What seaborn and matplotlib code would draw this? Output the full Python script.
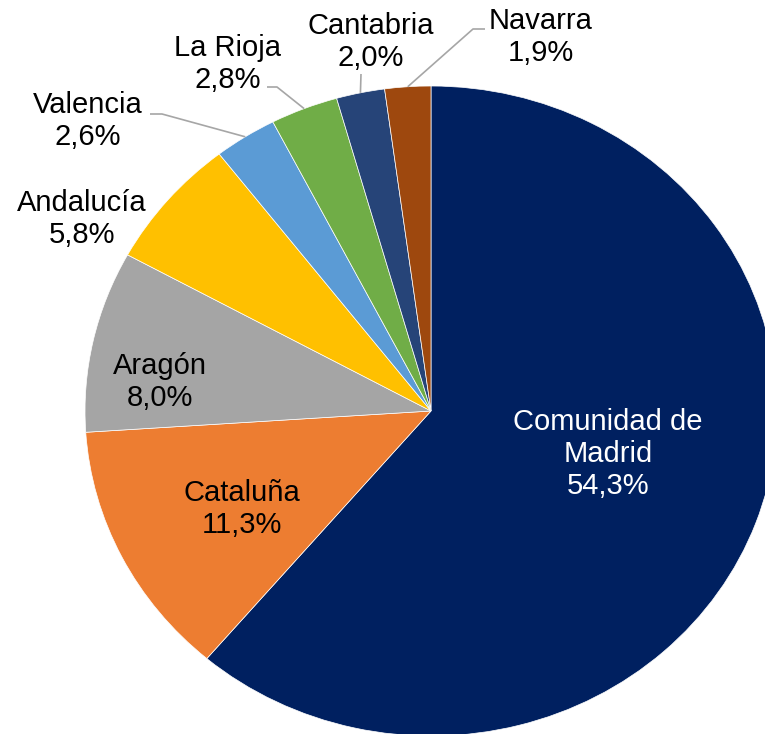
import matplotlib
matplotlib.use('Agg')
import matplotlib.pyplot as plt
import seaborn as sns
import numpy as np

# Data
regions = ['Comunidad de\nMadrid', 'Cataluña', 'Aragón', 'Andalucía',
           'Valencia', 'La Rioja', 'Cantabria', 'Navarra']
shares = [54.3, 11.3, 8.0, 5.8, 2.6, 2.8, 2.0, 1.9]
share_labels = ['54,3%', '11,3%', '8,0%', '5,8%', '2,6%', '2,8%', '2,0%', '1,9%']

# Style
sns.set_style('white')
plt.rcParams['font.family'] = ['Liberation Sans', 'DejaVu Sans']
colors = sns.color_palette(['#002060', '#ED7D31', '#A5A5A5', '#FFC000',
                            '#5B9BD5', '#70AD47', '#264478', '#9E480E'])

W, H = 765, 734
fig = plt.figure(figsize=(W / 100, H / 100), dpi=100)
ax = fig.add_axes([0, 0, 1, 1])

# pie centre / radii in pixels (the original chart is slightly stretched)
cx, cy, rx, ry = 431, 411, 346, 325


def px(x, y):
    return (x - cx) / rx, (cy - y) / ry


wedges, _ = ax.pie(shares, colors=colors, startangle=90, counterclock=False,
                   radius=1, wedgeprops=dict(edgecolor='white', linewidth=0.5))
ax.set_aspect('auto')
ax.set_xlim(px(0, 0)[0], px(W, 0)[0])
ax.set_ylim(px(0, H)[1], px(0, 0)[1])
ax.axis('off')

# label placement (pixel positions of label centres) and leader elbows
label_pos = [(608, 454), (242, 509), (160, 382), (82, 219),
             (88, 121), (228, 64), (371, 42), (541, 37)]
leaders = {4: [(162, 114), (150, 114)],
           5: [(277, 87), (267, 87)],
           6: [(361, 74)],
           7: [(473, 29), (485, 29)]}

for i, (name, lab) in enumerate(zip(regions, share_labels)):
    x, y = px(*label_pos[i])
    col = 'white' if i == 0 else 'black'
    ax.text(x, y, f'{name}\n{lab}', ha='center', va='center',
            multialignment='center', fontsize=21, color=col, linespacing=1.17)
    if i in leaders:
        w = wedges[i]
        th = np.deg2rad((w.theta1 + w.theta2) / 2)
        xs = [np.cos(th)] + [px(*p)[0] for p in leaders[i]]
        ys = [np.sin(th)] + [px(*p)[1] for p in leaders[i]]
        ax.plot(xs, ys, color='#A6A6A6', lw=1.2, solid_capstyle='butt')

plt.savefig('out.png', dpi=100)
plt.close()
